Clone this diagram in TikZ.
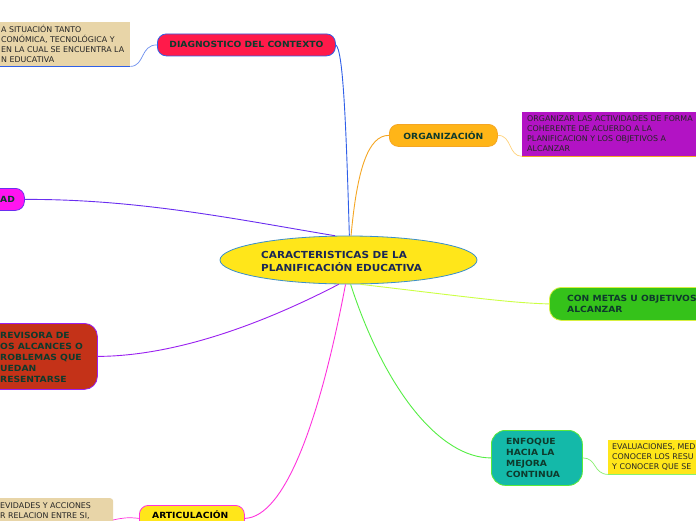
\documentclass[tikz,border=0pt]{standalone}
\usepackage{fontspec}
\setmainfont{DejaVu Sans}
\newfontfamily\widebold[FakeStretch=1.08]{DejaVu Sans Bold}
\usetikzlibrary{shapes.geometric}
\definecolor{redc}{HTML}{FF1A4A}
\definecolor{bluec}{HTML}{2F5FE8}
\definecolor{tanc}{HTML}{E8D5A8}
\definecolor{orangec}{HTML}{FFB518}
\definecolor{orangeline}{HTML}{F5A623}
\definecolor{orangelight}{HTML}{FFD27A}
\definecolor{purplec}{HTML}{B213C4}
\definecolor{magentac}{HTML}{FF14F0}
\definecolor{adline}{HTML}{6A2EF0}
\definecolor{greenc}{HTML}{35C21A}
\definecolor{greenborder}{HTML}{D8F040}
\definecolor{limeline}{HTML}{CCFF44}
\definecolor{redbox}{HTML}{C43218}
\definecolor{redborder}{HTML}{9A20F0}
\definecolor{tealc}{HTML}{14B9A9}
\definecolor{tealborder}{HTML}{5BEA3A}
\definecolor{greenline}{HTML}{55EE44}
\definecolor{greenlight}{HTML}{88F070}
\definecolor{yellowc}{HTML}{FFE61A}
\definecolor{artborder}{HTML}{FF33DD}
\definecolor{ellborder}{HTML}{3A8FCB}
\definecolor{txtgreen}{HTML}{0E3A2C}
\definecolor{navy}{HTML}{1A2755}
\newcommand{\topicfont}{\widebold\fontsize{8.5}{11}\selectfont}
\newcommand{\notefont}{\fontsize{7.9}{10}\selectfont}
\tikzset{
  topicbox/.style={draw, line width=0.8pt, rounded corners=9pt, anchor=north west, inner sep=0pt},
  notebox/.style={anchor=north west, inner sep=0pt},
  topictext/.style={font=\topicfont, text=txtgreen, align=left, inner sep=0pt, anchor=west},
  notetext/.style={font=\notefont, text=black!85, align=left, inner sep=0pt, anchor=west},
  conn/.style={line width=0.9pt},
  subconn/.style={line width=0.7pt}
}
\begin{document}
\begin{tikzpicture}[x=1pt,y=-1pt]
\useasboundingbox (0,0) rectangle (696,520);
\clip (0,0) rectangle (696,520);
\fill[white] (0,0) rectangle (696,520);

% central ellipse
\node[ellipse, draw=ellborder, fill=yellowc, line width=0.8pt, minimum width=257, minimum height=48, inner sep=0pt] (center) at (348.5,260) {};
\node[font=\widebold\fontsize{9.7}{13}\selectfont, text=navy, align=left, inner sep=0pt, anchor=west] (ctext) at (261,261.5) {CARACTERISTICAS DE LA\\PLANIFICACIÓN EDUCATIVA};

% topic boxes
\node[topicbox, fill=redc, draw=bluec, minimum width=178, minimum height=22, font=\topicfont, text=txtgreen] (diag) at (157,33.5) {DIAGNOSTICO DEL CONTEXTO};
\node[topicbox, fill=orangec, draw=orangeline, minimum width=108, minimum height=22, font=\topicfont, text=txtgreen] (org) at (389,124) {ORGANIZACIÓN};
\node[topicbox, fill=magentac, draw=adline, minimum width=64, minimum height=22] (ad) at (-40,188) {};
\node[topictext] (adt) at (0,199) {AD};
\node[topicbox, fill=greenc, draw=greenborder, rounded corners=12pt, minimum width=170, minimum height=33] (metas) at (549,287) {};
\node[topictext] (metast) at (567,304) {CON METAS U OBJETIVOS\\ALCANZAR};
\node[topicbox, fill=redbox, draw=redborder, rounded corners=13pt, minimum width=112, minimum height=66] (prev) at (-15,323) {};
\node[topictext] (prevt) at (0,357) {REVISORA DE\\OS ALCANCES O\\ROBLEMAS QUE\\UEDAN\\RESENTARSE};
\node[topicbox, fill=tealc, draw=tealborder, rounded corners=14pt, minimum width=91, minimum height=55] (enf) at (491,430) {};
\node[topictext] (enft) at (506,458) {ENFOQUE\\HACIA LA\\MEJORA\\CONTINUA};
\node[topicbox, fill=yellowc, draw=artborder, minimum width=105, minimum height=26] (art) at (139,505) {};
\node[topictext, text=black] (artt) at (152,514.5) {ARTICULACIÓN};

% notes
\node[notebox, fill=tanc, minimum width=140, minimum height=44] (n1) at (-10,22) {};
\node[notetext] (n1t) at (1,44) {A SITUACIÓN TANTO\\CONÓMICA, TECNOLÓGICA Y\\EN LA CUAL SE ENCUENTRA LA\\N EDUCATIVA};
\draw[bluec, line width=0.9pt] (n1.south west) -- (n1.south east);

\node[notebox, fill=purplec, minimum width=180, minimum height=44] (n2) at (522,112) {};
\node[notetext] (n2t) at (527,134) {ORGANIZAR LAS ACTIVIDADES DE FORMA\\COHERENTE DE ACUERDO A LA\\PLANIFICACION Y LOS OBJETIVOS A\\ALCANZAR};
\draw[orangeline, line width=0.9pt] (n2.south west) -- (n2.south east);

\node[notebox, fill=yellowc, minimum width=95, minimum height=34] (n3) at (608,440) {};
\node[notetext] (n3t) at (612,457) {EVALUACIONES, MED\\CONOCER LOS RESU\\Y CONOCER QUE SE};
\draw[greenlight, line width=0.9pt] (n3.south west) -- (n3.south east);

\node[notebox, fill=tanc, rounded corners=3pt, minimum width=130, minimum height=40] (n4) at (-17,498) {};
\node[notetext] (n4t) at (0,511.5) {EVIDADES Y ACCIONES\\R RELACION ENTRE SI,};

% connectors from center
\draw[conn, bluec] (center.88) .. controls (346,120) and (343,50) .. (diag.east);
\draw[conn, orangeline] (center.84) .. controls (357,170) and (368,135) .. (org.west);
\draw[conn, adline] (center.119) .. controls (240,220) and (140,199) .. (ad.east);
\draw[conn, limeline] (center.-64) .. controls (460,296) and (510,303) .. (metas.west);
\draw[conn, redborder] (center.-112) .. controls (270,320) and (180,356) .. (prev.east);
\draw[conn, greenline] (center.-85) .. controls (385,390) and (440,458) .. (enf.west);
\draw[conn, artborder] (center.-97) .. controls (320,420) and (285,517) .. (art.east);

% sub connectors
\draw[subconn, bluec!70] (diag.west) .. controls (140,45) and (145,66) .. (n1.south east);
\draw[subconn, orangelight] (org.east) .. controls (512,135) and (508,156) .. (n2.south west);
\draw[subconn, greenlight] (enf.east) .. controls (597,458) and (593,474) .. (n3.south west);
\coordinate (n4end) at (113,520);
\draw[subconn, artborder] (art.west) .. controls (128,517) and (122,518) .. (n4end);
\end{tikzpicture}
\end{document}
